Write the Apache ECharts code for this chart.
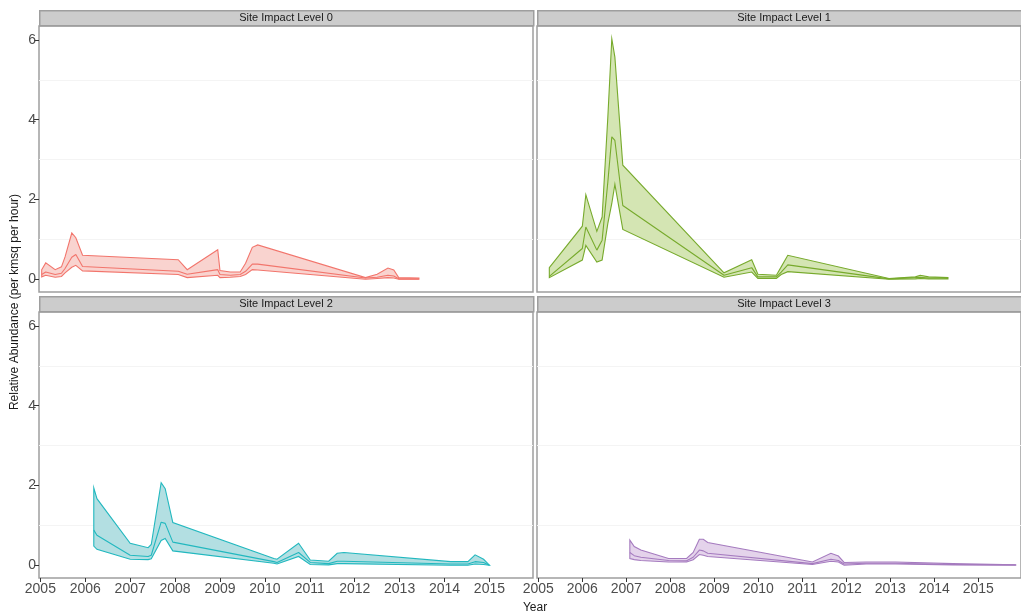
<!DOCTYPE html>
<html>
<head>
<meta charset="utf-8">
<script src="https://cdn.jsdelivr.net/npm/echarts@6/dist/echarts.min.js"></script>
<style>
html,body{margin:0;padding:0;background:#fff;}
#chart{width:1021px;height:611px;}
</style>
</head>
<body>
<div id="chart"></div>
<script>
// ---- tick labels / categories ----
const panelTitles = ['Site Impact Level 0', 'Site Impact Level 1', 'Site Impact Level 2', 'Site Impact Level 3'];
const yearTicks = [2005, 2006, 2007, 2008, 2009, 2010, 2011, 2012, 2013, 2014, 2015];
const yTicks = [0, 2, 4, 6];
const gridValues = [1, 3, 5];

// ---- Site Impact Level 0 ----
const x0   = [2005.03, 2005.12, 2005.33, 2005.47, 2005.55, 2005.70, 2005.79, 2005.94, 2008.07, 2008.27, 2008.95, 2009.00, 2009.23, 2009.45, 2009.57, 2009.72, 2009.84, 2012.24, 2012.50, 2012.74, 2012.87, 2012.98, 2013.43];
const hi0  = [0.24, 0.41, 0.24, 0.31, 0.56, 1.16, 1.04, 0.60, 0.49, 0.24, 0.74, 0.22, 0.18, 0.18, 0.40, 0.80, 0.86, 0.04, 0.125, 0.28, 0.23, 0.04, 0.03];
const mid0 = [0.12, 0.18, 0.12, 0.15, 0.27, 0.55, 0.62, 0.32, 0.20, 0.125, 0.24, 0.12, 0.10, 0.12, 0.20, 0.38, 0.38, 0.03, 0.05, 0.10, 0.08, 0.01, 0.01];
const lo0  = [0.06, 0.10, 0.05, 0.07, 0.16, 0.30, 0.35, 0.21, 0.12, 0.04, 0.10, 0.04, 0.05, 0.07, 0.12, 0.24, 0.23, 0.00, 0.02, 0.04, 0.03, 0.00, 0.00];

// ---- Site Impact Level 1 ----
const x1   = [2005.25, 2006.00, 2006.08, 2006.33, 2006.45, 2006.58, 2006.67, 2006.74, 2006.92, 2009.22, 2009.85, 2009.99, 2010.41, 2010.52, 2010.67, 2012.97, 2013.57, 2013.68, 2013.87, 2014.31];
const hi1  = [0.29, 1.33, 2.12, 1.20, 1.56, 4.07, 6.03, 5.57, 2.86, 0.16, 0.49, 0.125, 0.10, 0.31, 0.60, 0.02, 0.06, 0.10, 0.06, 0.04];
const mid1 = [0.07, 0.77, 1.31, 0.73, 0.98, 2.44, 3.57, 3.48, 1.85, 0.10, 0.29, 0.06, 0.06, 0.18, 0.36, 0.01, 0.04, 0.05, 0.03, 0.03];
const lo1  = [0.04, 0.48, 0.85, 0.43, 0.48, 1.40, 1.90, 2.38, 1.25, 0.05, 0.18, 0.02, 0.02, 0.12, 0.19, 0.00, 0.01, 0.02, 0.01, 0.01];

// ---- Site Impact Level 2 ----
const x2   = [2006.19, 2006.26, 2007.00, 2007.40, 2007.47, 2007.69, 2007.78, 2007.95, 2010.20, 2010.27, 2010.75, 2011.01, 2011.42, 2011.61, 2011.76, 2014.14, 2014.52, 2014.68, 2014.87, 2015.00];
const hi2  = [1.94, 1.67, 0.55, 0.44, 0.52, 2.07, 1.92, 1.07, 0.17, 0.15, 0.55, 0.13, 0.10, 0.30, 0.32, 0.09, 0.09, 0.26, 0.15, 0.00];
const mid2 = [0.88, 0.75, 0.25, 0.22, 0.25, 1.08, 1.05, 0.58, 0.09, 0.07, 0.32, 0.07, 0.04, 0.10, 0.10, 0.03, 0.03, 0.09, 0.07, 0.00];
const lo2  = [0.48, 0.40, 0.15, 0.14, 0.16, 0.62, 0.67, 0.36, 0.05, 0.03, 0.22, 0.02, 0.01, 0.04, 0.04, 0.00, 0.00, 0.03, 0.02, 0.00];

// ---- Site Impact Level 3 ----
const x3   = [2007.08, 2007.18, 2007.33, 2007.96, 2008.37, 2008.52, 2008.66, 2008.75, 2008.85, 2011.23, 2011.65, 2011.82, 2011.95, 2012.45, 2013.12, 2014.42, 2015.85];
const hi3  = [0.63, 0.47, 0.38, 0.17, 0.17, 0.32, 0.65, 0.65, 0.57, 0.08, 0.30, 0.23, 0.07, 0.08, 0.08, 0.04, 0.01];
const mid3 = [0.32, 0.24, 0.20, 0.12, 0.11, 0.20, 0.38, 0.36, 0.30, 0.04, 0.15, 0.12, 0.03, 0.05, 0.05, 0.02, 0.01];
const lo3  = [0.17, 0.14, 0.12, 0.08, 0.08, 0.14, 0.27, 0.25, 0.22, 0.02, 0.10, 0.08, 0.00, 0.03, 0.03, 0.01, 0.00];

const panelData = [
  {x: x0, lo: lo0, mid: mid0, hi: hi0},
  {x: x1, lo: lo1, mid: mid1, hi: hi1},
  {x: x2, lo: lo2, mid: mid2, hi: hi2},
  {x: x3, lo: lo3, mid: mid3, hi: hi3}
];
const lineColors = ['#f2756c', '#77aa2c', '#22b8bf', '#a57bbf'];
const fillColors = ['#f9d3cf', '#d4e5b3', '#b3dfe2', '#e4d3eb'];

const FONT = '"Liberation Sans", Arial, sans-serif';
const gridBoxes = [
  {left: 39, top: 26, width: 494, height: 266},
  {left: 537, top: 26, width: 494, height: 266},
  {left: 39, top: 312, width: 494, height: 266},
  {left: 537, top: 312, width: 494, height: 266}
];

const grids = gridBoxes.map(b => ({
  left: b.left, top: b.top, width: b.width, height: b.height,
  show: true, borderColor: '#9e9e9e', borderWidth: 1.5, backgroundColor: '#fff', containLabel: false
}));

const xAxes = gridBoxes.map((b, i) => {
  const bottom = i >= 2;
  return {
    gridIndex: i, type: 'value', min: 2004.97, max: 2015.97, position: 'bottom',
    axisLine: {show: false, onZero: false}, splitLine: {show: false},
    axisTick: {show: bottom, customValues: yearTicks, length: 4, lineStyle: {color: '#333'}},
    axisLabel: {show: bottom, customValues: yearTicks, margin: 4, fontSize: 14, color: '#4d4d4d', fontFamily: FONT,
      formatter: v => String(Math.round(v))}
  };
});
const yAxes = gridBoxes.map((b, i) => {
  const left = i % 2 === 0;
  return {
    gridIndex: i, type: 'value', min: -0.32, max: 6.35, position: 'left',
    axisLine: {show: false, onZero: false}, splitLine: {show: false},
    axisTick: {show: left, customValues: yTicks, length: 5, lineStyle: {color: '#333'}},
    axisLabel: {show: left, customValues: yTicks, margin: 3, fontSize: 14, color: '#4d4d4d', fontFamily: FONT,
      formatter: v => String(Math.round(v))}
  };
});

const series = [];
panelData.forEach((p, i) => {
  const items = p.x.map((xv, k) => [xv, p.lo[k], p.hi[k]]);
  series.push({
    type: 'custom', xAxisIndex: i, yAxisIndex: i, z: 2, silent: true,
    data: items,
    encode: {x: 0, y: [1, 2]},
    clip: true,
    renderItem: function (params, api) {
      if (params.dataIndex !== 0) return null;
      const pts = [];
      for (let k = 0; k < p.x.length; k++) pts.push(api.coord([p.x[k], p.hi[k]]));
      for (let k = p.x.length - 1; k >= 0; k--) pts.push(api.coord([p.x[k], p.lo[k]]));
      return {
        type: 'polygon', shape: {points: pts},
        style: {fill: fillColors[i], stroke: lineColors[i], lineWidth: 1.1}
      };
    },
    markLine: {
      silent: true, symbol: 'none', z: 0, animation: false,
      label: {show: false},
      lineStyle: {color: '#f4f4f4', type: 'solid', width: 1},
      data: gridValues.map(v => ({yAxis: v}))
    }
  });
  series.push({
    type: 'line', xAxisIndex: i, yAxisIndex: i, z: 3, silent: true,
    data: p.x.map((xv, k) => [xv, p.mid[k]]),
    symbol: 'none', lineStyle: {color: lineColors[i], width: 1.1}, animation: false
  });
});

const graphics = [];
gridBoxes.forEach((b, i) => {
  const top = b.top - 16;
  graphics.push({
    type: 'rect', left: b.left, top: top, silent: true,
    shape: {width: b.width, height: 15},
    style: {fill: '#cccccc', stroke: '#9e9e9e', lineWidth: 1.5}
  });
  graphics.push({
    type: 'text', x: b.left + b.width / 2, y: top + 8, silent: true,
    style: {text: panelTitles[i], font: '11px ' + FONT, fill: '#1a1a1a', align: 'center', verticalAlign: 'middle'}
  });
});
graphics.push({
  type: 'text', x: 15, y: 302, rotation: Math.PI / 2, silent: true,
  style: {text: 'Relative Abundance (per kmsq per hour)', font: '12px ' + FONT, fill: '#1a1a1a', align: 'center', verticalAlign: 'middle'}
});
graphics.push({
  type: 'text', x: 535, y: 608, silent: true,
  style: {text: 'Year', font: '12px ' + FONT, fill: '#1a1a1a', align: 'center', verticalAlign: 'middle'}
});

const chart = echarts.init(document.getElementById('chart'), null, {renderer: 'canvas'});
chart.setOption({
  animation: false,
  backgroundColor: '#fff',
  grid: grids,
  xAxis: xAxes,
  yAxis: yAxes,
  series: series,
  graphic: graphics
});
</script>
</body>
</html>
